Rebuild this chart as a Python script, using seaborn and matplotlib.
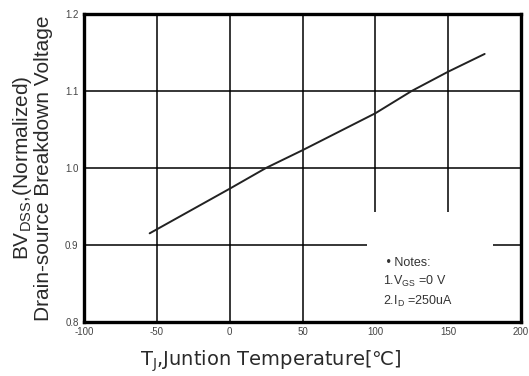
import pandas as pd
import matplotlib.pyplot as plt
import seaborn as sns
from matplotlib.patches import Rectangle
from matplotlib.ticker import MultipleLocator

# 样式
sns.set_style("white")
plt.rcParams['font.family'] = ['Liberation Sans', 'DejaVu Sans']
plt.rcParams['mathtext.fontset'] = 'custom'
plt.rcParams['mathtext.rm'] = 'Liberation Sans'
plt.rcParams['mathtext.it'] = 'Liberation Sans'
plt.rcParams['mathtext.bf'] = 'Liberation Sans:bold'
plt.rcParams['mathtext.default'] = 'regular'
plt.rcParams['axes.unicode_minus'] = False

# 数据
temp = [-55, 0, 25, 50, 100, 125, 150, 175]
bv_norm = [0.915, 0.973, 1.0, 1.023, 1.071, 1.1, 1.125, 1.148]
x_ticks = [-100, -50, 0, 50, 100, 150, 200]
y_ticks = [0.8, 0.9, 1.0, 1.1, 1.2]
y_tick_labels = ['0.8', '0.9', '1.0', '1.1', '1.2']

df = pd.DataFrame({'temp': temp, 'bv': bv_norm})

fig = plt.figure(figsize=(5.29, 3.76), dpi=100)
ax = fig.add_axes([0.159, 0.144, 0.826, 0.819])

# 网格
ax.set_axisbelow(True)
ax.grid(True, color='black', linewidth=1.1)

# 曲线
sns.lineplot(data=df, x='temp', y='bv', color='#222222', linewidth=1.4, ax=ax, zorder=3)

ax.set_xlim(-100, 200)
ax.set_ylim(0.8, 1.2)
ax.set_xticks(x_ticks)
ax.set_yticks(y_ticks)
ax.set_yticklabels(y_tick_labels)
ax.xaxis.set_minor_locator(MultipleLocator(25))
ax.yaxis.set_minor_locator(MultipleLocator(0.05))
ax.tick_params(which='major', direction='in', length=4, width=1.5,
               labelsize=7, labelcolor='#444444', pad=4)
ax.tick_params(which='minor', direction='in', length=3, width=1.8)

for s in ax.spines.values():
    s.set_linewidth(2.4)
    s.set_color('black')

# 注释框 (白底遮住网格)
ax.add_patch(Rectangle((94, 0.8), 87, 0.143, facecolor='white',
                       edgecolor='none', zorder=2))
note = ' • Notes:\n1.V$_{GS}$ =0 V\n2.I$_D$ =250uA'
ax.text(105, 0.884, note, fontsize=9, color='#333333', va='top', ha='left',
        linespacing=1.45, zorder=4)

# x轴标题用 DejaVu Sans (含 ℃)
ax.set_xlabel('T$_J$,Juntion Temperature[℃]', fontsize=14, color='#2a2a2a',
              family='DejaVu Sans')
ax.xaxis.set_label_coords(0.428, -0.085, transform=ax.transAxes)
ax.xaxis.label.set_va('top')
ax.set_ylabel('BV$_{DSS}$,(Normalized)\nDrain-source Breakdown Voltage',
              fontsize=15, color='#2a2a2a', labelpad=9, linespacing=1.0)

plt.savefig('out.png', dpi=100)
